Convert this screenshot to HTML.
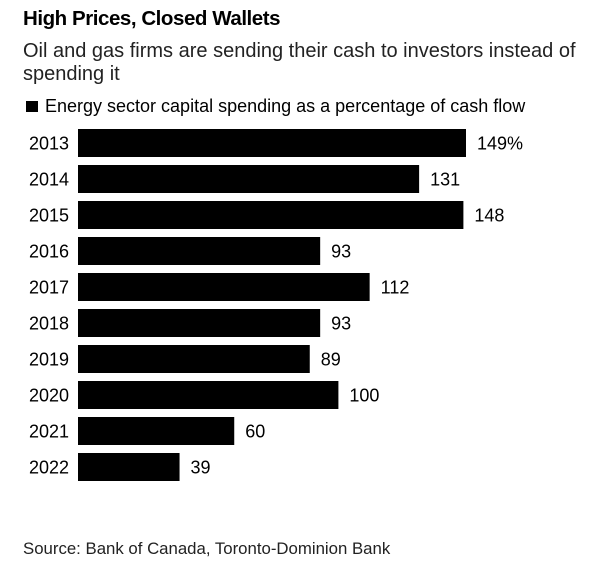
<!DOCTYPE html>
<html><head><meta charset="utf-8"><style>
body{margin:0;width:601px;height:569px;background:#fff;font-family:"Liberation Sans",sans-serif;overflow:hidden;position:relative}
.t{position:absolute;left:23px;white-space:nowrap;color:#000}
</style></head><body>
<div class="t" style="top:7px;font-size:20.5px;font-weight:bold;letter-spacing:-0.45px">High Prices, Closed Wallets</div>
<div class="t" style="top:40px;font-size:20px;line-height:23px;color:#222">Oil and gas firms are sending their cash to investors instead of<br>spending it</div>
<div class="t" style="top:96px;left:26px;font-size:18px"><span style="display:inline-block;width:12px;height:11px;background:#000;margin-right:7px"></span>Energy sector capital spending as a percentage of cash flow</div>
<svg id="c" width="601" height="569" style="position:absolute;left:0;top:0"></svg>
<div class="t" style="top:539px;font-size:16.8px;color:#222">Source: Bank of Canada, Toronto-Dominion Bank</div>
<script>
const years=["2013","2014","2015","2016","2017","2018","2019","2020","2021","2022"];
const values=[149,131,148,93,112,93,89,100,60,39];
const labels=["149%","131","148","93","112","93","89","100","60","39"];
const svg=document.getElementById('c');const NS="http://www.w3.org/2000/svg";
const x0=78,k=2.604,y0=129,pitch=36,bh=28;
const xs=v=>x0+v*k, ys=i=>y0+i*pitch;
years.forEach((yr,i)=>{
 const r=document.createElementNS(NS,'rect');
 r.setAttribute('x',x0);r.setAttribute('y',ys(i));r.setAttribute('width',xs(values[i])-x0);r.setAttribute('height',bh);r.setAttribute('fill','#000');
 
 
 svg.appendChild(r);
 const t=document.createElementNS(NS,'text');
 t.setAttribute('x',29);t.setAttribute('y',ys(i)+bh/2+6.5);t.setAttribute('font-size','18');t.setAttribute('font-family','Liberation Sans');t.textContent=yr;
 
 
 svg.appendChild(t);
 const v=document.createElementNS(NS,'text');
 v.setAttribute('x',xs(values[i])+11);v.setAttribute('y',ys(i)+bh/2+6.5);v.setAttribute('font-size','18');v.setAttribute('font-family','Liberation Sans');v.textContent=labels[i];
 
 
 svg.appendChild(v);
});
</script>
</body></html>
